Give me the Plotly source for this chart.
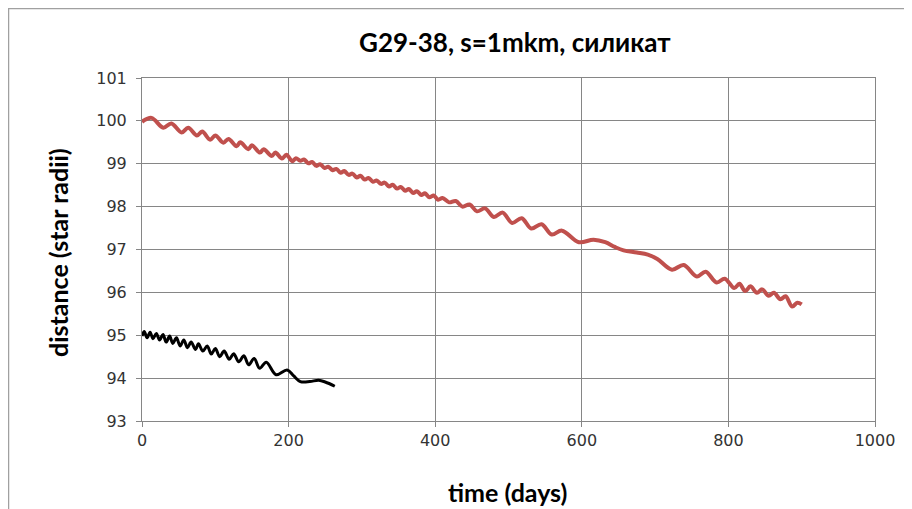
import plotly.graph_objects as go

# Red series (s=1 mkm, silicate) - days and distance in star radii
red_days = [0, 13, 29, 40, 54, 63, 75, 82, 93, 100, 111, 118, 129, 134, 145, 150, 161, 166, 177, 182,
            191, 197, 205, 210, 216, 221, 227, 232, 238, 243, 249, 254, 260, 265, 271, 276, 282, 287,
            293, 298, 304, 309, 315, 320, 326, 331, 337, 342, 348, 353, 359, 364, 370, 375, 381, 386,
            392, 398, 404, 410, 419, 428, 437, 447, 457, 468, 480, 492, 505, 518, 531, 545, 559, 573,
            596, 616, 632, 645, 657, 675, 690, 703, 723, 739, 757, 769, 784, 795, 808, 815, 823, 830,
            839, 846, 855, 862, 871, 878, 887, 894, 900]
red_vals = [99.98, 100.07, 99.84, 99.94, 99.73, 99.84, 99.66, 99.75, 99.56, 99.66, 99.49, 99.58, 99.41,
            99.50, 99.34, 99.43, 99.26, 99.34, 99.18, 99.26, 99.12, 99.21, 99.06, 99.13, 99.07, 99.10,
            99.01, 99.04, 98.95, 98.99, 98.90, 98.93, 98.85, 98.88, 98.79, 98.83, 98.74, 98.77, 98.68,
            98.72, 98.63, 98.67, 98.58, 98.61, 98.53, 98.56, 98.47, 98.51, 98.42, 98.46, 98.37, 98.41,
            98.32, 98.36, 98.27, 98.31, 98.22, 98.26, 98.16, 98.20, 98.10, 98.13, 98.00, 98.05, 97.89,
            97.96, 97.76, 97.86, 97.62, 97.73, 97.49, 97.59, 97.35, 97.44, 97.17, 97.23, 97.17, 97.06,
            96.98, 96.93, 96.88, 96.78, 96.53, 96.64, 96.37, 96.48, 96.23, 96.32, 96.10, 96.20, 96.03,
            96.14, 95.99, 96.07, 95.92, 95.99, 95.84, 95.91, 95.67, 95.76, 95.72]

# Black series
black_days = [0, 3, 7, 11, 15, 19.5, 24, 28.6, 33, 37.7, 42, 47, 52, 57, 62, 67, 73, 77, 83, 89, 94.5,
              100, 106, 112, 119, 125, 132, 139, 145.5, 153, 160.5, 169.5, 183, 198, 207, 216, 229,
              241, 250, 263]
black_vals = [94.98, 95.09, 94.94, 95.07, 94.92, 95.04, 94.89, 95.02, 94.84, 94.98, 94.81, 94.94, 94.75,
              94.89, 94.71, 94.84, 94.67, 94.80, 94.63, 94.75, 94.56, 94.69, 94.50, 94.63, 94.44, 94.57,
              94.38, 94.52, 94.31, 94.46, 94.23, 94.37, 94.08, 94.19, 94.05, 93.92, 93.92, 93.95, 93.91,
              93.81]

title_text = "G29-38, s=1mkm, силикат"
x_title = "time (days)"
y_title = "distance (star radii)"

# page has an 8px body margin; figure sized to fit the 912x509 window
W, H = 904, 501
L, T = 134, 70
PW, PH = 733, 343
R, B = W - L - PW, H - T - PH

def px(fx):
    return (fx - L) / PW

def py(fy):
    return (T + PH - fy) / PH

fig = go.Figure()
fig.add_trace(go.Scatter(x=red_days, y=red_vals, mode="lines",
                         line=dict(color="#C0504D", width=4, shape="spline", smoothing=1.0),
                         showlegend=False))
fig.add_trace(go.Scatter(x=black_days, y=black_vals, mode="lines",
                         line=dict(color="#000000", width=3, shape="spline", smoothing=1.0),
                         showlegend=False))

grid = "#868686"
tickfont = dict(family="DejaVu Sans", size=16, color="#333333")
fig.update_layout(
    width=W, height=H,
    margin=dict(l=L, r=R, t=T, b=B, autoexpand=False),
    paper_bgcolor="white", plot_bgcolor="white",
    xaxis=dict(range=[0, 1000], dtick=200, tick0=0, showgrid=True, gridcolor=grid, gridwidth=1,
               showline=True, linecolor=grid, linewidth=1, mirror=True, automargin=False,
               ticks="outside", ticklen=5, tickcolor=grid, zeroline=False, tickfont=tickfont),
    yaxis=dict(range=[93, 101], dtick=1, tick0=93, showgrid=True, gridcolor=grid, gridwidth=1,
               showline=True, linecolor=grid, linewidth=1, mirror=True, automargin=False,
               ticks="outside", ticklen=5, tickcolor=grid, zeroline=False, tickfont=tickfont,
               ticklabelstandoff=6),
)

fig.add_annotation(text="<b>" + title_text + "</b>", xref="paper", yref="paper",
                   x=px(507), y=py(34), xanchor="center", yanchor="middle", showarrow=False,
                   font=dict(family="Lato", size=26, color="#000000"))
fig.add_annotation(text="<b>" + x_title + "</b>", xref="paper", yref="paper",
                   x=px(499), y=py(484), xanchor="center", yanchor="middle", showarrow=False,
                   font=dict(family="Lato", size=25, color="#000000"))
fig.add_annotation(text="<b>" + y_title + "</b>", xref="paper", yref="paper",
                   x=px(50), y=py(245), xanchor="center", yanchor="middle", showarrow=False,
                   textangle=-90, font=dict(family="Lato", size=25, color="#000000"))

# outer chart-area border
fig.add_shape(type="rect", xref="paper", yref="paper", x0=px(0.5), x1=px(899), y0=py(520), y1=py(0.5),
              line=dict(color="#A0A0A0", width=1.5), fillcolor="rgba(0,0,0,0)", layer="below")

fig.write_html("out.html")
